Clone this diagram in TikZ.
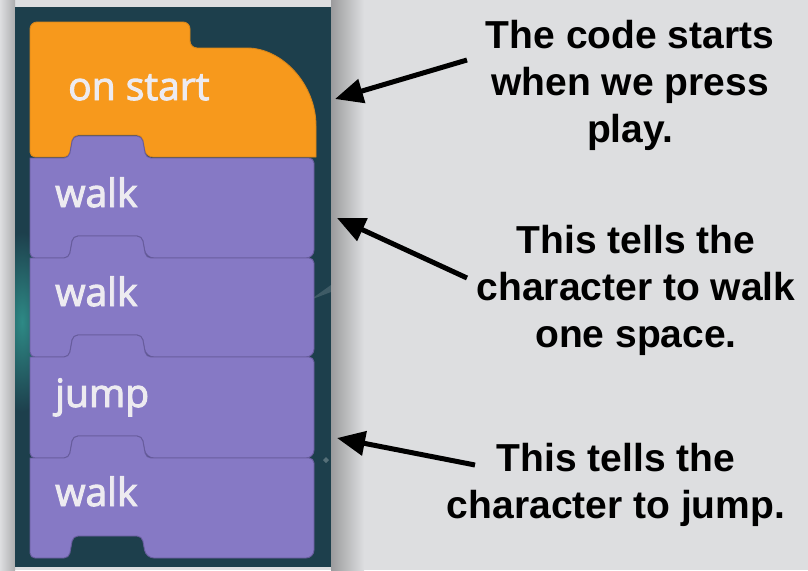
\documentclass[tikz,border=0pt]{standalone}
\usepackage{fontspec}
\setmainfont{Liberation Sans}
\newfontfamily\blockfont[FakeBold=2.5]{Open Sans}
\usetikzlibrary{arrows.meta}
\definecolor{bg}{HTML}{DDDEE0}
\definecolor{panel}{HTML}{1D3F4C}
\definecolor{glow}{HTML}{2E8A86}
\definecolor{orangeblk}{HTML}{F7991C}
\definecolor{orangeedge}{HTML}{D9861A}
\definecolor{purpleblk}{HTML}{8679C5}
\definecolor{purpleedge}{HTML}{675C9C}
\definecolor{blocktext}{HTML}{EDEBF0}
\begin{document}
\begin{tikzpicture}[x=1pt,y=-1pt,
  blocklabel/.style={font=\blockfont\fontsize{39}{39}\selectfont, text=blocktext, anchor=base west, inner sep=0pt},
  note/.style={font=\bfseries\fontsize{39}{47}\selectfont, align=center, inner sep=0pt, anchor=base},
  pointer/.style={line width=5pt, -{Triangle[length=28pt,width=24pt]}},
  purpleblock/.style={fill=purpleblk, draw=purpleedge, line width=0.9pt},
  orangeblock/.style={fill=orangeblk, draw=orangeedge, line width=0.9pt}]
\useasboundingbox (0,0) rectangle (808,570);
\fill[bg] (0,0) rectangle (808,570);
% shadows around the panel
\shade[left color=bg, right color=black!22!bg] (0,0) rectangle (15,570);
\shade[left color=black!30!bg, right color=bg] (331,0) rectangle (364,570);
% panel
\fill[panel] (15,7) rectangle (331,567);
\begin{scope}
\clip (15,7) rectangle (331,567);
\shade[inner color=glow, outer color=panel] (22,322) ellipse [x radius=30, y radius=90];
\fill[white, opacity=0.25] (323,460) -- (326,457) -- (329,460) -- (326,463) -- cycle;
\fill[white, opacity=0.15] (310,300) -- (331,285) -- (331,292) -- cycle;
\end{scope}
% orange hat block
\filldraw[orangeblock] (30,90) [rounded corners=7] -- (30,22) -- (190,22) -- (190,48) -- (240,48)
  [sharp corners] .. controls (282,48) and (316,84) .. (316,126)
  -- (316,157) [rounded corners=7] -- (146,157) [rounded corners=5] -- (142,135) -- (73,135) -- (69,157)
  -- (30,157) [rounded corners=7] -- cycle;
% purple blocks
\foreach \T/\B in {158/258, 258/357, 357/458, 458/558}{
  \filldraw[purpleblock] (30,\T) [rounded corners=5] -- (69,\T) -- (73,\T-22) -- (142,\T-22) -- (146,\T) -- (314,\T)
    [rounded corners=8] -- (314,\B) -- (146,\B) [rounded corners=5] -- (142,\B-22) -- (73,\B-22) -- (69,\B) -- (30,\B)
    [sharp corners] -- cycle;
}
% block labels
\node[blocklabel] (onstart) at (68,100) {on start};
\node[blocklabel] (walkone) at (55,207) {walk};
\node[blocklabel] (walktwo) at (55,306) {walk};
\node[blocklabel] (jump) at (55,407) {jump};
\node[blocklabel] (walkthree) at (55,506) {walk};
% notes (anchor = baseline of last line)
\node[note] (noteone) at (630,142) {The code starts\\when we press\\play.};
\node[note] (notetwo) at (636,347) {This tells the\\character to walk\\one space.};
\node[note] (notethree) at (616,518) {This tells the\\character to jump.};
% arrows
\coordinate (tailone) at (467,60);
\coordinate (headone) at (335,99);
\coordinate (tailtwo) at (467,278);
\coordinate (headtwo) at (337,218);
\coordinate (tailthree) at (475,465);
\coordinate (headthree) at (337,438);
\draw[pointer] (tailone) -- (headone);
\draw[pointer] (tailtwo) -- (headtwo);
\draw[pointer] (tailthree) -- (headthree);
\end{tikzpicture}
\end{document}
